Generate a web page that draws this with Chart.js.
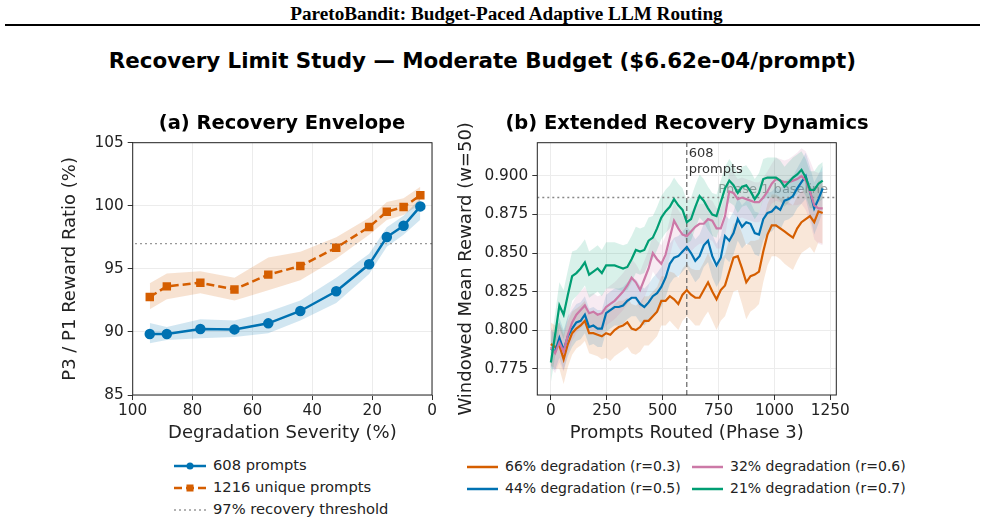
<!DOCTYPE html>
<html>
<head>
<meta charset="utf-8">
<script src="https://cdn.jsdelivr.net/npm/chart.js@4.4.1/dist/chart.umd.min.js"></script>
<style>
  body { margin: 0; width: 985px; height: 524px; background: #fff; position: relative; overflow: hidden; font-family: 'DejaVu Sans', sans-serif; }
  #hdr { position: absolute; top: 3px; left: 0; width: 1013px; text-align: center; font: bold 19.2px 'Liberation Serif', serif; }
  #rule { position: absolute; top: 24px; left: 5px; width: 975px; height: 2px; background: #000; }
  #title { position: absolute; top: 48px; left: 0; width: 965px; text-align: center; font-weight: bold; font-size: 21.4px; }
  .ptitle { position: absolute; top: 111px; font-weight: bold; font-size: 19.5px; text-align: center; white-space: nowrap; }
  .box { position: absolute; top: 110px; height: 340px; }
  .leg { position: absolute; color: #222; }
  .leg div { height: 22px; line-height: 22px; white-space: nowrap; }
  .leg svg { vertical-align: middle; margin-right: 7px; }
</style>
</head>
<body>
<div id="hdr">ParetoBandit: Budget-Paced Adaptive LLM Routing</div>
<div id="rule"></div>
<div id="title">Recovery Limit Study — Moderate Budget ($6.62e-04/prompt)</div>
<div class="box" style="left:55px;width:395px"><canvas id="envChart"></canvas></div>
<div class="box" style="left:450px;width:412px"><canvas id="dynChart"></canvas></div>
<div class="ptitle" style="left:112px;width:340px">(a) Recovery Envelope</div>
<div class="ptitle" style="left:487px;width:400px">(b) Extended Recovery Dynamics</div>

<div class="leg" style="left:174px;top:454px;font-size:14.7px">
  <div><svg width="32" height="10"><line x1="0" y1="5" x2="32" y2="5" stroke="#0072b2" stroke-width="2.5"/><circle cx="16" cy="5" r="3.5" fill="#0072b2"/></svg>608 prompts</div>
  <div><svg width="32" height="10"><line x1="0" y1="5" x2="32" y2="5" stroke="#d55e00" stroke-width="2.5" stroke-dasharray="8,4"/><rect x="12.5" y="1.5" width="7" height="7" fill="#d55e00"/></svg>1216 unique prompts</div>
  <div><svg width="32" height="10"><line x1="0" y1="5" x2="32" y2="5" stroke="#999" stroke-width="1.5" stroke-dasharray="2,3"/></svg>97% recovery threshold</div>
</div>
<div class="leg" style="left:467px;top:455px;font-size:14px">
  <div><svg width="31" height="10"><line x1="0" y1="5" x2="31" y2="5" stroke="#d55e00" stroke-width="2.5"/></svg>66% degradation (r=0.3)</div>
  <div><svg width="31" height="10"><line x1="0" y1="5" x2="31" y2="5" stroke="#0072b2" stroke-width="2.5"/></svg>44% degradation (r=0.5)</div>
</div>
<div class="leg" style="left:692px;top:455px;font-size:14px">
  <div><svg width="31" height="10"><line x1="0" y1="5" x2="31" y2="5" stroke="#cc79a7" stroke-width="2.5"/></svg>32% degradation (r=0.6)</div>
  <div><svg width="31" height="10"><line x1="0" y1="5" x2="31" y2="5" stroke="#009e73" stroke-width="2.5"/></svg>21% degradation (r=0.7)</div>
</div>

<script>
// (a) 恢复包络
const severity = [94.3, 88.6, 77.4, 66, 54.7, 44, 32, 21, 15.1, 9.5, 3.9];
const ratio608 = [89.83, 89.83, 90.23, 90.2, 90.68, 91.66, 93.22, 95.36, 97.52, 98.42, 99.95];
const ratio608Lo = [89.1, 89.35, 89.5, 89.6, 89.9, 90.9, 92.3, 94.6, 96.75, 97.7, 98.9];
const ratio608Hi = [90.7, 90.4, 91.0, 90.9, 91.6, 92.5, 94.3, 96.2, 98.3, 99.2, 100.6];
const ratio1216 = [92.77, 93.61, 93.9, 93.37, 94.54, 95.22, 96.68, 98.32, 99.53, 99.9, 100.83];
const ratio1216Lo = [91.8, 92.6, 93.06, 92.5, 93.3, 94.1, 95.8, 97.7, 98.87, 99.27, 100.14];
const ratio1216Hi = [93.85, 94.64, 94.8, 94.3, 95.9, 96.36, 97.5, 99.06, 100.3, 100.6, 101.5];
const threshold = 97;
const envYTicks = [85, 90, 95, 100, 105];

// (b) 延长恢复动态
const prompts = [0,19,38,57,76,95,114,133,152,171,190,209,228,247,266,285,304,323,342,361,380,399,418,437,456,475,494,513,532,551,570,589,608,627,646,665,684,703,722,741,760,779,798,817,836,855,874,893,912,931,950,969,988,1007,1026,1045,1064,1083,1102,1121,1140,1159,1178,1197,1216];
const deg66 = [0.791,0.789,0.790,0.781,0.791,0.798,0.801,0.803,0.806,0.798,0.798,0.797,0.796,0.798,0.797,0.800,0.802,0.803,0.805,0.801,0.800,0.802,0.806,0.806,0.809,0.812,0.819,0.819,0.822,0.820,0.817,0.823,0.826,0.823,0.821,0.821,0.826,0.831,0.825,0.820,0.826,0.829,0.838,0.847,0.848,0.840,0.831,0.835,0.836,0.838,0.851,0.862,0.868,0.868,0.866,0.864,0.862,0.860,0.866,0.870,0.872,0.874,0.870,0.877,0.876];
const deg44 = [0.788,0.786,0.795,0.787,0.796,0.801,0.805,0.806,0.810,0.802,0.803,0.801,0.801,0.811,0.813,0.815,0.815,0.816,0.819,0.821,0.821,0.817,0.815,0.818,0.822,0.824,0.828,0.834,0.843,0.847,0.848,0.851,0.854,0.850,0.845,0.848,0.855,0.858,0.848,0.842,0.847,0.861,0.858,0.863,0.872,0.867,0.870,0.869,0.863,0.862,0.872,0.876,0.877,0.880,0.878,0.884,0.885,0.887,0.892,0.896,0.900,0.890,0.879,0.885,0.892];
const deg32 = [0.789,0.785,0.792,0.786,0.797,0.805,0.810,0.813,0.816,0.811,0.812,0.810,0.811,0.815,0.817,0.819,0.822,0.825,0.829,0.834,0.831,0.826,0.833,0.840,0.850,0.846,0.843,0.849,0.860,0.871,0.866,0.862,0.861,0.864,0.867,0.869,0.869,0.872,0.871,0.866,0.866,0.874,0.890,0.889,0.885,0.886,0.885,0.884,0.883,0.883,0.886,0.890,0.895,0.898,0.897,0.896,0.896,0.897,0.898,0.900,0.897,0.890,0.881,0.879,0.879];
const deg21 = [0.779,0.797,0.816,0.810,0.823,0.835,0.837,0.840,0.844,0.836,0.838,0.840,0.837,0.842,0.842,0.842,0.841,0.840,0.841,0.846,0.852,0.851,0.852,0.858,0.860,0.866,0.873,0.877,0.880,0.885,0.881,0.878,0.870,0.872,0.880,0.887,0.884,0.879,0.875,0.874,0.883,0.892,0.897,0.894,0.889,0.893,0.894,0.890,0.885,0.889,0.898,0.899,0.899,0.899,0.897,0.893,0.896,0.899,0.901,0.904,0.899,0.891,0.891,0.895,0.897];
const sd66 = [0.014,0.014,0.015,0.016,0.015,0.014,0.013,0.013,0.013,0.013,0.014,0.014,0.015,0.016,0.017,0.017,0.017,0.016,0.016,0.016,0.016,0.016,0.016,0.016,0.016,0.016,0.016,0.016,0.016,0.017,0.017,0.017,0.017,0.017,0.018,0.018,0.018,0.019,0.019,0.020,0.020,0.020,0.021,0.022,0.022,0.023,0.024,0.023,0.022,0.021,0.020,0.020,0.020,0.020,0.020,0.021,0.021,0.021,0.021,0.020,0.020,0.020,0.020,0.020,0.020];
const sd44 = [0.012,0.012,0.013,0.013,0.013,0.012,0.012,0.012,0.012,0.012,0.012,0.012,0.012,0.012,0.012,0.012,0.012,0.012,0.012,0.012,0.012,0.012,0.012,0.012,0.012,0.013,0.013,0.013,0.013,0.013,0.013,0.013,0.013,0.014,0.014,0.014,0.014,0.014,0.014,0.014,0.014,0.014,0.014,0.014,0.014,0.014,0.014,0.014,0.014,0.014,0.014,0.013,0.013,0.013,0.013,0.013,0.013,0.013,0.013,0.014,0.015,0.016,0.017,0.016,0.015];
const sd32 = [0.013,0.013,0.013,0.013,0.012,0.012,0.012,0.012,0.012,0.012,0.012,0.012,0.012,0.012,0.012,0.012,0.012,0.012,0.012,0.012,0.012,0.012,0.012,0.012,0.012,0.012,0.012,0.012,0.012,0.012,0.012,0.012,0.012,0.013,0.013,0.013,0.013,0.013,0.013,0.013,0.013,0.013,0.013,0.013,0.013,0.013,0.013,0.013,0.013,0.013,0.013,0.013,0.013,0.014,0.014,0.014,0.015,0.016,0.017,0.018,0.019,0.020,0.022,0.023,0.024];
const sd21 = [0.013,0.014,0.015,0.016,0.016,0.016,0.015,0.015,0.015,0.015,0.015,0.015,0.015,0.015,0.015,0.015,0.015,0.015,0.015,0.015,0.015,0.015,0.015,0.015,0.014,0.014,0.014,0.014,0.014,0.014,0.014,0.014,0.014,0.014,0.014,0.014,0.014,0.014,0.014,0.014,0.014,0.014,0.014,0.013,0.013,0.013,0.013,0.013,0.013,0.013,0.013,0.013,0.013,0.013,0.013,0.013,0.013,0.013,0.013,0.012,0.012,0.012,0.012,0.012,0.012];
const phase1Baseline = 0.886;
const splitAt = 608;
const dynXTicks = [0, 250, 500, 750, 1000, 1250];
const dynYTicks = [0.775, 0.800, 0.825, 0.850, 0.875, 0.900];

const FONT = 'DejaVu Sans';
Chart.defaults.font.family = FONT;
Chart.defaults.color = '#222';
Chart.defaults.animation = false;

const TICK = 15.3, LABEL = 18, TOP = 32.7;
const pts = (xs, ys) => xs.map((x, i) => ({ x, y: ys[i] }));
const rgba = (hex, a) => {
    const n = parseInt(hex.slice(1), 16);
    return `rgba(${n >> 16},${(n >> 8) & 255},${n & 255},${a})`;
};

// 外框
const frame = {
    id: 'frame',
    afterDraw(c) {
        const { ctx, chartArea: a } = c;
        ctx.save();
        ctx.strokeStyle = '#222';
        ctx.lineWidth = 1;
        ctx.strokeRect(a.left, a.top, a.right - a.left, a.bottom - a.top);
        ctx.restore();
    }
};

function axisOpts(extra) {
    return Object.assign({
        type: 'linear',
        border: { display: false },
        grid: { color: '#ececec', tickColor: '#333', tickLength: 5 }
    }, extra);
}

// 图 (a)
const BLUE = '#0072b2', ORANGE = '#d55e00';
new Chart(document.getElementById('envChart'), {
    type: 'line',
    data: {
        datasets: [
            { data: pts(severity, ratio608), borderColor: BLUE, backgroundColor: BLUE, borderWidth: 2.5, pointRadius: 4, pointStyle: 'circle', order: 1 },
            { data: pts(severity, ratio1216), borderColor: ORANGE, backgroundColor: ORANGE, borderWidth: 2.5, borderDash: [8, 4], pointRadius: 4.2, pointStyle: 'rect', order: 2 },
            { data: [{ x: 0, y: threshold }, { x: 100, y: threshold }], borderColor: '#999', borderWidth: 1.4, borderDash: [2, 3], pointRadius: 0, order: 3 },
            { data: pts(severity, ratio608Hi), borderWidth: 0, pointRadius: 0, fill: '+1', backgroundColor: rgba(BLUE, 0.18), order: 5 },
            { data: pts(severity, ratio608Lo), borderWidth: 0, pointRadius: 0, order: 5 },
            { data: pts(severity, ratio1216Hi), borderWidth: 0, pointRadius: 0, fill: '+1', backgroundColor: rgba(ORANGE, 0.18), order: 6 },
            { data: pts(severity, ratio1216Lo), borderWidth: 0, pointRadius: 0, order: 6 }
        ]
    },
    options: {
        responsive: true, maintainAspectRatio: false,
        layout: { autoPadding: false, padding: { left: 0, top: TOP, right: 18, bottom: 0 } },
        plugins: { legend: { display: false }, tooltip: { enabled: false } },
        scales: {
            x: axisOpts({
                min: 0, max: 100, reverse: true,
                ticks: { font: { size: TICK }, color: '#222', padding: 2, stepSize: 20, includeBounds: false },
                title: { display: true, text: 'Degradation Severity (%)', font: { size: LABEL }, color: '#222', padding: { top: 0, bottom: 6 } },
                afterFit: s => { s.height = 55; }
            }),
            y: axisOpts({
                min: 85, max: 105,
                afterBuildTicks: s => { s.ticks = envYTicks.map(v => ({ value: v })); },
                ticks: { font: { size: TICK }, color: '#222', padding: 4 },
                title: { display: true, text: 'P3 / P1 Reward Ratio (%)', font: { size: LABEL }, color: '#222', padding: { top: 5, bottom: 0 } },
                afterFit: s => { s.width = 77.7; }
            })
        }
    },
    plugins: [frame]
});

// 图 (b)
const series = [
    { ys: deg66, sd: sd66, color: '#d55e00', order: 4 },
    { ys: deg44, sd: sd44, color: '#0072b2', order: 3 },
    { ys: deg32, sd: sd32, color: '#cc79a7', order: 2 },
    { ys: deg21, sd: sd21, color: '#009e73', order: 1 }
];
const yMin = 0.7579, yMax = 0.9216, xMin = -60.8, xMax = 1276.8;
const dynSets = [];
series.forEach(s => {
    dynSets.push({ data: pts(prompts, s.ys), borderColor: s.color, borderWidth: 2.2, pointRadius: 0, order: s.order });
});
series.forEach(s => {
    dynSets.push({ data: pts(prompts, s.ys.map((v, i) => v + s.sd[i])), borderWidth: 0, pointRadius: 0, fill: '+1', backgroundColor: rgba(s.color, 0.15), order: 10 + s.order });
    dynSets.push({ data: pts(prompts, s.ys.map((v, i) => v - s.sd[i])), borderWidth: 0, pointRadius: 0, order: 10 + s.order });
});
dynSets.push({ data: [{ x: splitAt, y: yMin }, { x: splitAt, y: yMax }], borderColor: '#555', borderWidth: 1.1, borderDash: [5, 3], pointRadius: 0, order: 8 });
dynSets.push({ data: [{ x: xMin, y: phase1Baseline }, { x: xMax, y: phase1Baseline }], borderColor: '#888', borderWidth: 1.4, borderDash: [2, 3], pointRadius: 0, order: 8 });

const notes = {
    id: 'notes',
    beforeDatasetsDraw(c) {
        const { ctx, scales: { x, y } } = c;
        ctx.save();
        ctx.font = `13px ${FONT}`;
        ctx.fillStyle = 'rgba(130,130,130,0.75)';
        ctx.textAlign = 'right';
        ctx.textBaseline = 'middle';
        ctx.fillText('Phase 1 baseline', x.getPixelForValue(1240), y.getPixelForValue(phase1Baseline) - 8);
        ctx.restore();
    },
    afterDatasetsDraw(c) {
        const { ctx, scales: { x }, chartArea: a } = c;
        ctx.save();
        ctx.font = `13px ${FONT}`;
        ctx.fillStyle = '#333';
        ctx.textAlign = 'left';
        ctx.textBaseline = 'middle';
        const px = x.getPixelForValue(splitAt) + 2;
        ctx.fillText('608', px, a.top + 11);
        ctx.fillText('prompts', px, a.top + 27);
        ctx.restore();
    }
};

new Chart(document.getElementById('dynChart'), {
    type: 'line',
    data: { datasets: dynSets },
    options: {
        responsive: true, maintainAspectRatio: false,
        layout: { autoPadding: false, padding: { left: 0, top: TOP, right: 25.7, bottom: 0 } },
        plugins: { legend: { display: false }, tooltip: { enabled: false } },
        scales: {
            x: axisOpts({
                min: xMin, max: xMax,
                afterBuildTicks: s => { s.ticks = dynXTicks.map(v => ({ value: v })); },
                ticks: { font: { size: TICK }, color: '#222', padding: 2, callback: v => String(v) },
                title: { display: true, text: 'Prompts Routed (Phase 3)', font: { size: LABEL }, color: '#222', padding: { top: 0, bottom: 6 } },
                afterFit: s => { s.height = 55; }
            }),
            y: axisOpts({
                min: yMin, max: yMax,
                afterBuildTicks: s => { s.ticks = dynYTicks.map(v => ({ value: v })); },
                ticks: { font: { size: TICK }, color: '#222', padding: 4, callback: v => v.toFixed(3) },
                title: { display: true, text: 'Windowed Mean Reward (w=50)', font: { size: LABEL }, color: '#222', padding: { top: 6, bottom: 0 } },
                afterFit: s => { s.width = 87.3; }
            })
        }
    },
    plugins: [frame, notes]
});
</script>
</body>
</html>
